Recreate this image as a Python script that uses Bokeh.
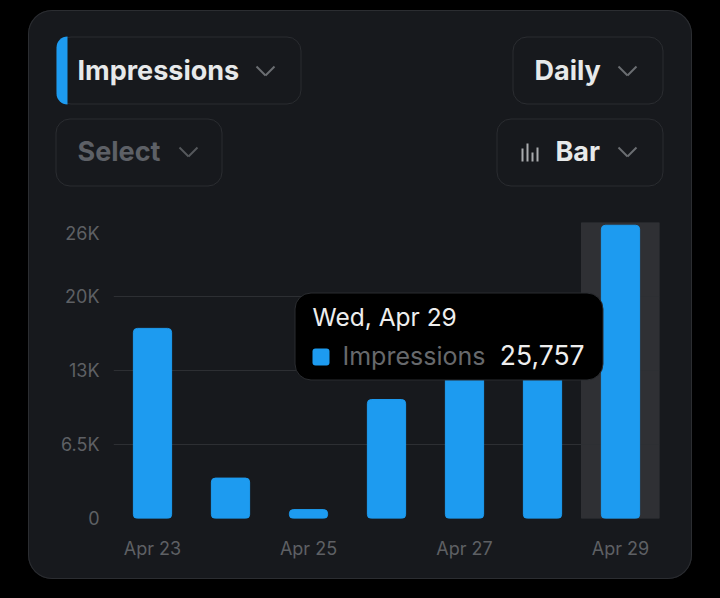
from bokeh.embed import file_html
from bokeh.layouts import column
from bokeh.models import Arrow, BoxAnnotation, CustomJS, DatetimeTickFormatter, DaysTicker, FixedTicker, Label, Range1d
from bokeh.plotting import figure
from bokeh.resources import INLINE
import pandas as pd

days = pd.to_datetime(["2026-04-23", "2026-04-24", "2026-04-25", "2026-04-26", "2026-04-27", "2026-04-28", "2026-04-29"])
impressions = [16700, 3550, 780, 10450, 14200, 14800, 25757]
active_day = pd.to_datetime(["2026-04-29"])
grid_ticks = [0, 6500, 13000, 19500, 26000]
# the top label sits under its grid line in the original
label_ticks = [0, 6500, 13000, 19500, 25030]
y_labels = ["0", "6.5K", "13K", "20K", "26K"]

BLUE = "#1d9bf0"
PANEL = "#17191d"
EDGE = "#2b2d31"
TEXT = "#e7e9ea"
MUTED = "#5e6064"
FONT = "Inter"
DAY = 24 * 3600 * 1000
LEFT = 29


def box(fig, top0, left, top, right, bottom, fill, line=None, radius=0):
    fig.add_layout(BoxAnnotation(left=left - LEFT, right=right - LEFT, top=top - top0, bottom=bottom - top0,
                                 left_units="canvas", right_units="canvas", top_units="canvas", bottom_units="canvas",
                                 fill_color=fill, fill_alpha=1, line_color=line, line_alpha=1, line_width=1,
                                 border_radius=radius))


def text(fig, top0, x, y, s, size, color, bold=False, align="left"):
    fig.add_layout(Label(x=x - LEFT, y=y - top0, x_units="canvas", y_units="canvas", text=s, text_font=FONT,
                         text_font_size=size, text_color=color, text_font_style="bold" if bold else "normal",
                         text_align=align, text_baseline="alphabetic"))


def chevron(fig, top0, x, y, color="#6b6e72"):
    for x0, y0, x1, y1 in [(x - 9, y - 5, x, y + 4), (x, y + 4, x + 9, y - 5)]:
        fig.add_layout(Arrow(x_start=x0 - LEFT, y_start=y0 - top0, x_end=x1 - LEFT, y_end=y1 - top0, end=None,
                             start_units="canvas", end_units="canvas", line_color=color, line_width=2))


# pickers above the chart, coordinates below are measured on the window
TOP = 11
head = figure(width=664, height=210, x_range=(0, 1), y_range=(0, 1), output_backend="svg", toolbar_location=None,
              x_axis_location=None, y_axis_location=None, frame_align=False,
              min_border_left=0, min_border_right=0, min_border_top=0, min_border_bottom=0)
head.grid.visible = False
head.border_fill_alpha = 0
head.background_fill_alpha = 0
head.outline_line_color = None

box(head, TOP, 57.5, 37.5, 301.5, 104.5, PANEL, EDGE, 14)
box(head, TOP, 57, 37, 68, 105, BLUE, None, (14, 0, 0, 14))
text(head, TOP, 78, 71, "Impressions", "27px", TEXT, True)
chevron(head, TOP, 266, 72)

box(head, TOP, 513.5, 37.5, 663.5, 104.5, PANEL, EDGE, 14)
text(head, TOP, 535, 71, "Daily", "27px", TEXT, True)
chevron(head, TOP, 628, 72)

box(head, TOP, 56.5, 119.5, 222.5, 186.5, PANEL, EDGE, 14)
text(head, TOP, 78, 152, "Select", "27px", "#5d6066", True)
chevron(head, TOP, 189, 153, "#55585c")

box(head, TOP, 497.5, 119.5, 663.5, 186.5, PANEL, EDGE, 14)
for x0, y0 in [(522, 149), (527, 144), (532, 153), (537, 148)]:
    box(head, TOP, x0, y0, x0 + 2, 162, "#a9abae")
text(head, TOP, 556, 152, "Bar", "27px", TEXT, True)
chevron(head, TOP, 628, 153)

# chart
TOP = 221
chart = figure(width=664, height=359, x_axis_type="datetime", output_backend="svg", toolbar_location=None,
               x_range=Range1d(days[0] - pd.Timedelta(hours=12), days[-1] + pd.Timedelta(hours=12)),
               y_range=Range1d(0, 26000), frame_align=False,
               min_border_left=85, min_border_right=33, min_border_top=2, min_border_bottom=61)
chart.border_fill_alpha = 0
chart.background_fill_alpha = 0
chart.outline_line_color = None

chart.vbar(x=active_day, top=[26000], bottom=0, width=DAY, color="#2f3034", level="underlay")
chart.vbar(x=days, top=impressions, bottom=-100, width=DAY / 2 * 0.98, color=BLUE, border_radius=4)

chart.ygrid.ticker = FixedTicker(ticks=grid_ticks)
chart.ygrid.grid_line_color = "#2d2f33"
chart.xgrid.grid_line_color = None

chart.yaxis.ticker = FixedTicker(ticks=label_ticks)
chart.yaxis.major_label_overrides = dict(zip(label_ticks, y_labels))
chart.xaxis.ticker = DaysTicker(days=[23, 25, 27, 29], num_minor_ticks=0)
chart.xaxis.formatter = DatetimeTickFormatter(days="%b %d")
for ax in (chart.xaxis, chart.yaxis):
    ax.axis_line_color = None
    ax.major_tick_line_color = None
    ax.minor_tick_line_color = None
    ax.major_label_text_font = FONT
    ax.major_label_text_font_size = "18px"
    ax.major_label_text_color = MUTED
chart.yaxis.major_label_standoff = 8
chart.xaxis.major_label_standoff = 13

# tooltip of the active bar
box(chart, TOP, 295.5, 293.5, 603.5, 380.5, "#000000", EDGE, 16)
text(chart, TOP, 313, 317, "Wed, Apr 29", "24.5px", "#eeeeee")
box(chart, TOP, 313, 349, 330, 366, BLUE, None, 3)
text(chart, TOP, 343, 356, "Impressions", "25px", "#67696c")
text(chart, TOP, 585, 355, "25,757", "26.5px", "#eeeeee", align="right")

p = column(head, chart, spacing=0, margin=(10, 0, 0, 28),
           styles={"background": PANEL, "border-radius": "24px", "box-shadow": "inset 0 0 0 1px " + EDGE})
# black around the card
chart.js_on_change("inner_width", CustomJS(code="document.documentElement.style.background = '#000'; document.body.style.background = '#000'"))

open("out.html", "w").write(file_html(p, INLINE))
